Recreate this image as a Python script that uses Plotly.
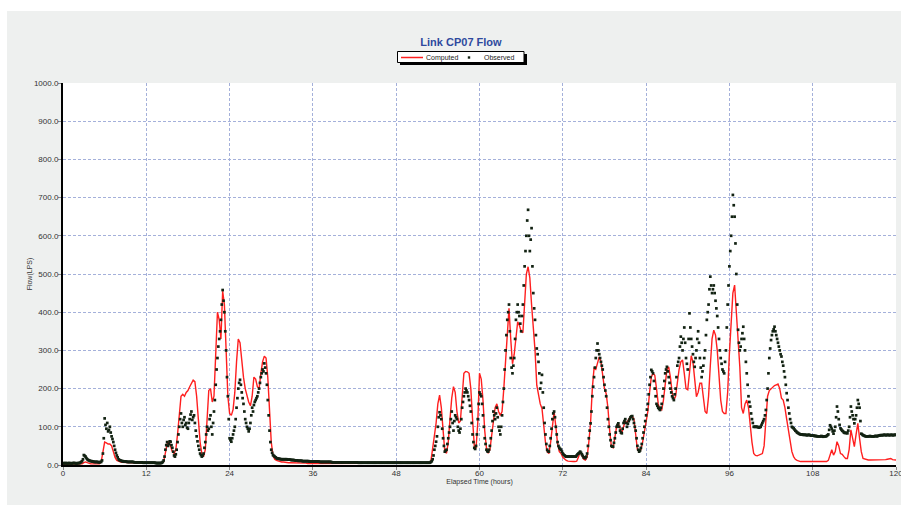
import plotly.graph_objects as go

# Computed series: one value every 0.25 h (4 per hour), 0-120 h
STEP_C = 0.25
computed = [
    2, 2, 2, 2,   2, 2, 2, 2,   2, 2, 2, 3,   6, 8, 6, 4,          # 0-3
    3, 3, 3, 3,   3, 3, 8, 40,  60, 58, 55, 55,  50, 35, 20, 12,    # 4-7
    9, 8, 7, 7,   6, 6, 6, 6,   6, 6, 5, 5,   5, 5, 5, 5,          # 8-11
    5, 5, 5, 5,   5, 5, 5, 5,   5, 5, 8, 30,  55, 62, 50, 35,       # 12-15
    30, 40, 80, 140,  180, 185, 180, 190,  195, 205, 215, 222,  218, 180, 120, 60,   # 16-19
    30, 22, 40, 110,  195, 200, 165, 180,  300, 400, 380, 330,  455, 420, 300, 180,  # 20-23
    135, 130, 145, 190,  270, 330, 320, 270,  230, 200, 180, 165,  155, 180, 230, 225, # 24-27
    205, 200, 240, 270,  285, 280, 230, 140,  60, 25, 15, 12,  10, 9, 8, 8,          # 28-31
    7, 7, 6, 6,   6, 6, 5, 5,   5, 5, 5, 5,   5, 4, 4, 4,          # 32-35
    4, 4, 4, 4,   4, 4, 4, 4,   4, 4, 4, 4,   4, 4, 4, 4,          # 36-39
    4, 4, 4, 4,   4, 4, 4, 4,   4, 4, 4, 4,   4, 4, 4, 4,          # 40-43
    4, 4, 4, 4,   4, 4, 4, 4,   4, 4, 4, 4,   4, 4, 4, 4,          # 44-47
    4, 4, 4, 4,   4, 4, 4, 4,   4, 4, 4, 4,   4, 4, 4, 4,          # 48-51
    4, 4, 4, 5,   10, 40, 70, 110,  160, 183, 150, 80,  35, 31, 60, 120,   # 52-55
    175, 205, 190, 140,  110, 115, 180, 240,  245, 244, 240, 200,  120, 50, 44, 110, # 56-59
    240, 225, 170, 90,  45, 31, 40, 80,  120, 150, 160, 140,  130, 140, 200, 270,    # 60-63
    360, 410, 330, 265,  290, 340, 375, 365,  350, 346, 420, 500,  519, 490, 420, 360, # 64-67
    300, 209, 180, 160,  148, 100, 60, 35,  30, 60, 110, 140,  100, 55, 35, 30,      # 68-71
    20, 15, 12, 10,  9, 9, 9, 9,  10, 20, 35, 25,  15, 13, 20, 60,                  # 72-75
    110, 200, 253, 250,  265, 283, 270, 240,  200, 187, 150, 90,  48, 45, 70, 100,   # 76-79
    109, 95, 83, 100,  115, 110, 120, 125,  128, 120, 80, 40,  35, 40, 60, 90,       # 80-83
    110, 140, 190, 230,  240, 235, 200, 160,  145, 144, 170, 220,  250, 257, 230, 190, # 84-87
    170, 180, 220, 250,  270, 275, 240, 200,  197, 250, 286, 270,  220, 179, 190, 214, # 88-91
    214, 180, 140, 135,  180, 260, 330, 353,  340, 300, 240, 170,  140, 135, 135, 190, # 92-95
    292, 390, 450, 471,  400, 300, 257, 150,  135, 160, 170, 150,  100, 60, 30, 25,   # 96-99
    24, 26, 26, 30,  50, 110, 180, 195,  200, 205, 208, 210,  212, 200, 175, 170,     # 100-103
    150, 120, 92, 60,  35, 22, 15, 12,  10, 9, 9, 9,  9, 9, 9, 9,                    # 104-107
    9, 9, 9, 9,  9, 9, 9, 9,  9, 12, 25, 40,  26, 35, 61, 50,                        # 108-111
    30, 28, 22, 17,  17, 40, 92, 70,  48, 80, 109, 70,  35, 17, 15, 14,              # 112-115
    13, 13, 13, 13,  13, 13, 13, 13,  13, 13, 14, 15,  17, 17, 14, 13,               # 116-119
    13,                                                                               # 120
]

# Observed series: one value every 0.125 h (8 per hour), 0-120 h
STEP_O = 0.125
observed = [
    5, 4, 5, 5, 4, 5, 4, 5,            # 0
    5, 4, 4, 5, 5, 5, 5, 4,            # 1
    4, 5, 5, 5, 6, 8, 10, 15,          # 2
    26, 24, 22, 18, 15, 13, 12, 11,    # 3
    10, 10, 9, 9, 8, 8, 8, 8,          # 4
    8, 7, 7, 8, 8, 12, 30, 70,         # 5
    122, 105, 95, 110, 88, 92, 100, 85,  # 6
    75, 68, 60, 50, 40, 32, 25, 20,    # 7
    15, 13, 12, 11, 10, 10, 9, 9,      # 8
    9, 9, 8, 8, 8, 8, 8, 8,            # 9
    8, 8, 7, 7, 7, 7, 7, 7,            # 10
    7, 7, 7, 7, 6, 6, 6, 6,            # 11
    6, 6, 6, 6, 6, 6, 6, 6,            # 12
    6, 6, 6, 5, 5, 5, 5, 5,            # 13
    5, 5, 6, 8, 12, 22, 40, 52,        # 14
    60, 50, 55, 62, 61, 52, 45, 35,    # 15
    25, 22, 28, 40, 60, 80, 100, 120,  # 16
    135, 110, 100, 118, 125, 105, 110, 98,   # 17
    95, 110, 120, 132, 140, 118, 125, 130,   # 18
    110, 90, 75, 62, 50, 40, 30, 26,   # 19
    22, 25, 30, 45, 60, 80, 100, 90,   # 20
    95, 120, 130, 100, 80, 110, 140, 170,    # 21
    210, 250, 280, 310, 330, 350, 380, 420,  # 22
    458, 430, 400, 350, 300, 230, 180, 120,  # 23
    70, 65, 61, 70, 80, 90, 100, 120,        # 24
    150, 175, 200, 215, 223, 210, 190, 175,  # 25
    160, 140, 120, 110, 100, 95, 88, 95,     # 26
    110, 130, 150, 140, 157, 165, 170, 175,  # 27
    180, 190, 200, 215, 230, 240, 250, 245,  # 28
    266, 255, 240, 210, 170, 130, 90, 60,    # 29
    40, 32, 26, 24, 22, 20, 18, 17,    # 30
    17, 16, 16, 15, 15, 15, 15, 15,    # 31
    15, 15, 15, 14, 14, 14, 14, 13,    # 32
    13, 13, 13, 12, 12, 12, 12, 11,    # 33
    11, 11, 11, 11, 10, 10, 10, 10,    # 34
    10, 10, 10, 10, 9, 9, 9, 9,        # 35
    9, 9, 9, 9, 9, 9, 9, 9,            # 36
    8, 8, 8, 8, 8, 8, 8, 8,            # 37
    8, 8, 8, 8, 8, 8, 7, 7,            # 38
    7, 7, 7, 7, 7, 7, 7, 7,            # 39
    7, 7, 7, 7, 7, 7, 7, 7,            # 40
    7, 7, 7, 7, 7, 7, 7, 7,            # 41
    7, 7, 7, 7, 6, 6, 6, 6,            # 42
    6, 6, 6, 6, 6, 6, 6, 6,            # 43
    6, 6, 6, 6, 6, 6, 6, 6,            # 44
    6, 6, 6, 6, 6, 6, 6, 6,            # 45
    6, 6, 6, 6, 6, 6, 6, 6,            # 46
    6, 6, 6, 6, 6, 6, 6, 6,            # 47
    6, 6, 6, 6, 6, 6, 6, 6,            # 48
    6, 6, 6, 6, 6, 6, 6, 6,            # 49
    6, 6, 6, 6, 6, 6, 6, 6,            # 50
    6, 6, 6, 6, 6, 6, 6, 6,            # 51
    6, 6, 6, 6, 6, 6, 6, 6,            # 52
    8, 10, 15, 25, 40, 50, 61, 75,     # 53
    100, 125, 138, 130, 120, 95, 70, 50,     # 54
    35, 38, 40, 55, 70, 85, 100, 120,        # 55
    140, 110, 90, 115, 130, 125, 120, 100,   # 56
    90, 85, 95, 120, 150, 165, 180, 190,     # 57
    200, 195, 190, 180, 170, 155, 140, 110,  # 58
    80, 60, 45, 42, 50, 80, 120, 160,        # 59
    190, 185, 180, 160, 130, 100, 70, 55,    # 60
    40, 36, 35, 40, 50, 70, 90, 115,         # 61
    140, 130, 120, 135, 150, 125, 100, 90,   # 62
    80, 100, 130, 165, 200, 250, 300, 340,   # 63
    380, 400, 420, 350, 280, 255, 240, 260,  # 64
    280, 330, 380, 400, 420, 400, 390, 370,  # 65
    350, 390, 420, 470, 520, 560, 600, 640,  # 66
    668, 600, 560, 590, 620, 520, 450, 410,  # 67
    380, 340, 305, 290, 270, 240, 200, 215,  # 68
    236, 190, 150, 110, 80, 55, 40, 36,      # 69
    35, 50, 70, 95, 120, 135, 140, 125,      # 70
    100, 80, 60, 50, 45, 42, 40, 35,         # 71
    30, 27, 25, 23, 22, 22, 22, 22,          # 72
    22, 22, 22, 22, 22, 22, 22, 22,          # 73
    25, 28, 30, 32, 35, 32, 28, 24,          # 74
    20, 19, 18, 22, 30, 50, 70, 90,          # 75
    109, 140, 180, 205, 230, 255, 280, 300,  # 76
    318, 300, 290, 280, 270, 260, 250, 230,  # 77
    210, 195, 180, 150, 120, 100, 80, 65,    # 78
    50, 48, 48, 58, 70, 85, 100, 105,        # 79
    109, 100, 90, 85, 83, 95, 110, 115,      # 80
    120, 110, 100, 108, 115, 120, 125, 127,  # 81
    128, 120, 110, 100, 90, 70, 50, 40,      # 82
    35, 38, 45, 55, 70, 85, 100, 115,        # 83
    130, 145, 160, 185, 210, 230, 249, 245,  # 84
    240, 220, 200, 180, 160, 155, 150, 147,  # 85
    144, 150, 160, 180, 200, 220, 240, 250,  # 86
    257, 245, 230, 215, 200, 190, 180, 175,  # 87
    170, 185, 200, 230, 260, 270, 280, 310,  # 88
    336, 320, 300, 330, 360, 320, 280, 265,  # 89
    250, 330, 397, 360, 330, 310, 290, 270,  # 90
    257, 280, 300, 330, 350, 320, 280, 255,  # 91
    230, 245, 260, 280, 300, 340, 380, 400,  # 92
    420, 460, 493, 470, 450, 460, 470, 450,  # 93
    430, 410, 390, 360, 330, 300, 280, 265,  # 94
    250, 245, 240, 270, 300, 360, 420, 470,  # 95
    520, 560, 600, 650, 707, 680, 650, 580,  # 96
    500, 420, 354, 320, 300, 310, 330, 345,  # 97
    362, 330, 300, 270, 240, 210, 180, 165,  # 98
    153, 135, 120, 110, 100, 100, 100, 100,  # 99
    100, 99, 98, 99, 100, 105, 110, 115,     # 100
    120, 130, 144, 170, 200, 240, 280, 305,  # 101
    327, 340, 350, 355, 362, 350, 340, 330,  # 102
    320, 310, 300, 290, 284, 270, 260, 245,  # 103
    230, 210, 188, 170, 150, 135, 120, 110,  # 104
    100, 98, 96, 93, 90, 88, 85, 84,         # 105
    82, 81, 80, 80, 80, 79, 79, 79,          # 106
    79, 78, 78, 79, 79, 78, 77, 77,          # 107
    77, 77, 76, 76, 76, 75, 75, 75,          # 108
    75, 75, 76, 75, 74, 75, 75, 75,          # 109
    76, 78, 80, 92, 104, 100, 95, 88,        # 110
    82, 90, 100, 125, 153, 140, 120, 105,    # 111
    96, 93, 90, 88, 85, 84, 84, 84,          # 112
    83, 90, 100, 125, 153, 140, 130, 120,    # 113
    109, 120, 130, 150, 170, 160, 150, 115,  # 114
    82, 80, 78, 77, 76, 75, 75, 75,          # 115
    75, 75, 76, 75, 75, 75, 75, 75,          # 116
    76, 76, 75, 76, 77, 77, 78, 78,          # 117
    78, 78, 79, 79, 78, 78, 79, 79,          # 118
    78, 78, 79, 79, 78, 78, 79, 79,          # 119
    79,                                      # 120
]

x_ticks = [0, 12, 24, 36, 48, 60, 72, 84, 96, 108, 120]
y_ticks = [0, 100, 200, 300, 400, 500, 600, 700, 800, 900, 1000]

hours_c = [i * STEP_C for i in range(len(computed))]
hours_o = [i * STEP_O for i in range(len(observed))]

FONT = "Liberation Sans, Arial, sans-serif"
GRID = "#a4b0da"
RED = "#ff1f1f"
DOT = "#122212"


def px(x):  # page pixel -> paper x
    return (x - 63) / 833


def py(y):  # page pixel -> paper y
    return (465 - y) / 382


fig = go.Figure()
fig.add_trace(go.Scatter(
    x=hours_c, y=computed, mode="lines", name="Computed",
    line=dict(color=RED, width=1.4), showlegend=False,
))
fig.add_trace(go.Scatter(
    x=hours_o, y=observed, mode="markers", name="Observed",
    marker=dict(color=DOT, size=2.7, symbol="square"), showlegend=False,
))

shapes = [
    # white strips above and left of the grey panel
    dict(type="rect", xref="paper", yref="paper", x0=-0.2, x1=1.2,
         y0=py(11), y1=1.3, fillcolor="white", line_width=0, layer="below"),
    dict(type="rect", xref="paper", yref="paper", x0=-0.2, x1=px(7),
         y0=-0.3, y1=1.3, fillcolor="white", line_width=0, layer="below"),
    # legend shadow + box
    dict(type="rect", xref="paper", yref="paper", x0=px(400), x1=px(527),
         y0=py(65), y1=py(54), fillcolor="black", line_width=0, layer="above"),
    dict(type="rect", xref="paper", yref="paper", x0=px(397.5), x1=px(524),
         y0=py(62.5), y1=py(51.5), fillcolor="white",
         line=dict(color="black", width=1), layer="above"),
    # legend symbols
    dict(type="line", xref="paper", yref="paper", x0=px(401), x1=px(423),
         y0=py(57.5), y1=py(57.5), line=dict(color=RED, width=1.5), layer="above"),
    dict(type="rect", xref="paper", yref="paper", x0=px(467.8), x1=px(470.2),
         y0=py(58.7), y1=py(56.3), fillcolor=DOT, line_width=0, layer="above"),
]

annotations = [
    dict(text="Computed", xref="paper", yref="paper", x=px(424), y=py(57.5),
         xanchor="left", yanchor="middle", showarrow=False,
         font=dict(family=FONT, size=7, color="#222222")),
    dict(text="Observed", xref="paper", yref="paper", x=px(481.5), y=py(57.5),
         xanchor="left", yanchor="middle", showarrow=False,
         font=dict(family=FONT, size=7, color="#222222")),
]

fig.update_layout(
    width=901, height=505,
    paper_bgcolor="#eef0ef", plot_bgcolor="white",
    margin=dict(l=63, r=5, t=83, b=40),
    font=dict(family=FONT, size=8, color="#333333"),
    title=dict(text="<b>Link CP07 Flow</b>", x=461 / 901, xref="container",
               y=1 - 42 / 505, yref="container", xanchor="center", yanchor="middle",
               font=dict(family=FONT, size=11, color="#2e4a9e")),
    showlegend=False,
    shapes=shapes,
    annotations=annotations,
    xaxis=dict(range=[0, 120], tickvals=x_ticks, ticktext=[str(v) for v in x_ticks],
               showgrid=True, gridcolor=GRID, griddash="3px,2px", gridwidth=1,
               showline=True, linecolor="black", linewidth=2,
               ticks="outside", ticklen=3, tickcolor="#888888",
               ticklabelstandoff=-4, ticklabeloverflow="allow", zeroline=False,
               automargin=False,
               title=dict(text="Elapsed Time (hours)", standoff=2,
                          font=dict(family=FONT, size=7, color="#333333"))),
    yaxis=dict(range=[0, 1000], tickvals=y_ticks, ticktext=[f"{v:.1f}" for v in y_ticks],
               showgrid=True, gridcolor=GRID, griddash="3px,2px", gridwidth=1,
               showline=True, linecolor="black", linewidth=2,
               ticks="outside", ticklen=3, tickcolor="#888888",
               ticklabelstandoff=-2, ticklabeloverflow="allow", zeroline=False,
               automargin=False,
               title=dict(text="Flow(LPS)", standoff=0,
                          font=dict(family=FONT, size=7, color="#333333"))),
)

# remove the browser's default page margin so the figure fills the window exactly
fig.write_html(
    "out.html",
    config={"displayModeBar": False},
    post_script="document.body.style.margin='0';document.body.style.overflow='hidden';",
)
